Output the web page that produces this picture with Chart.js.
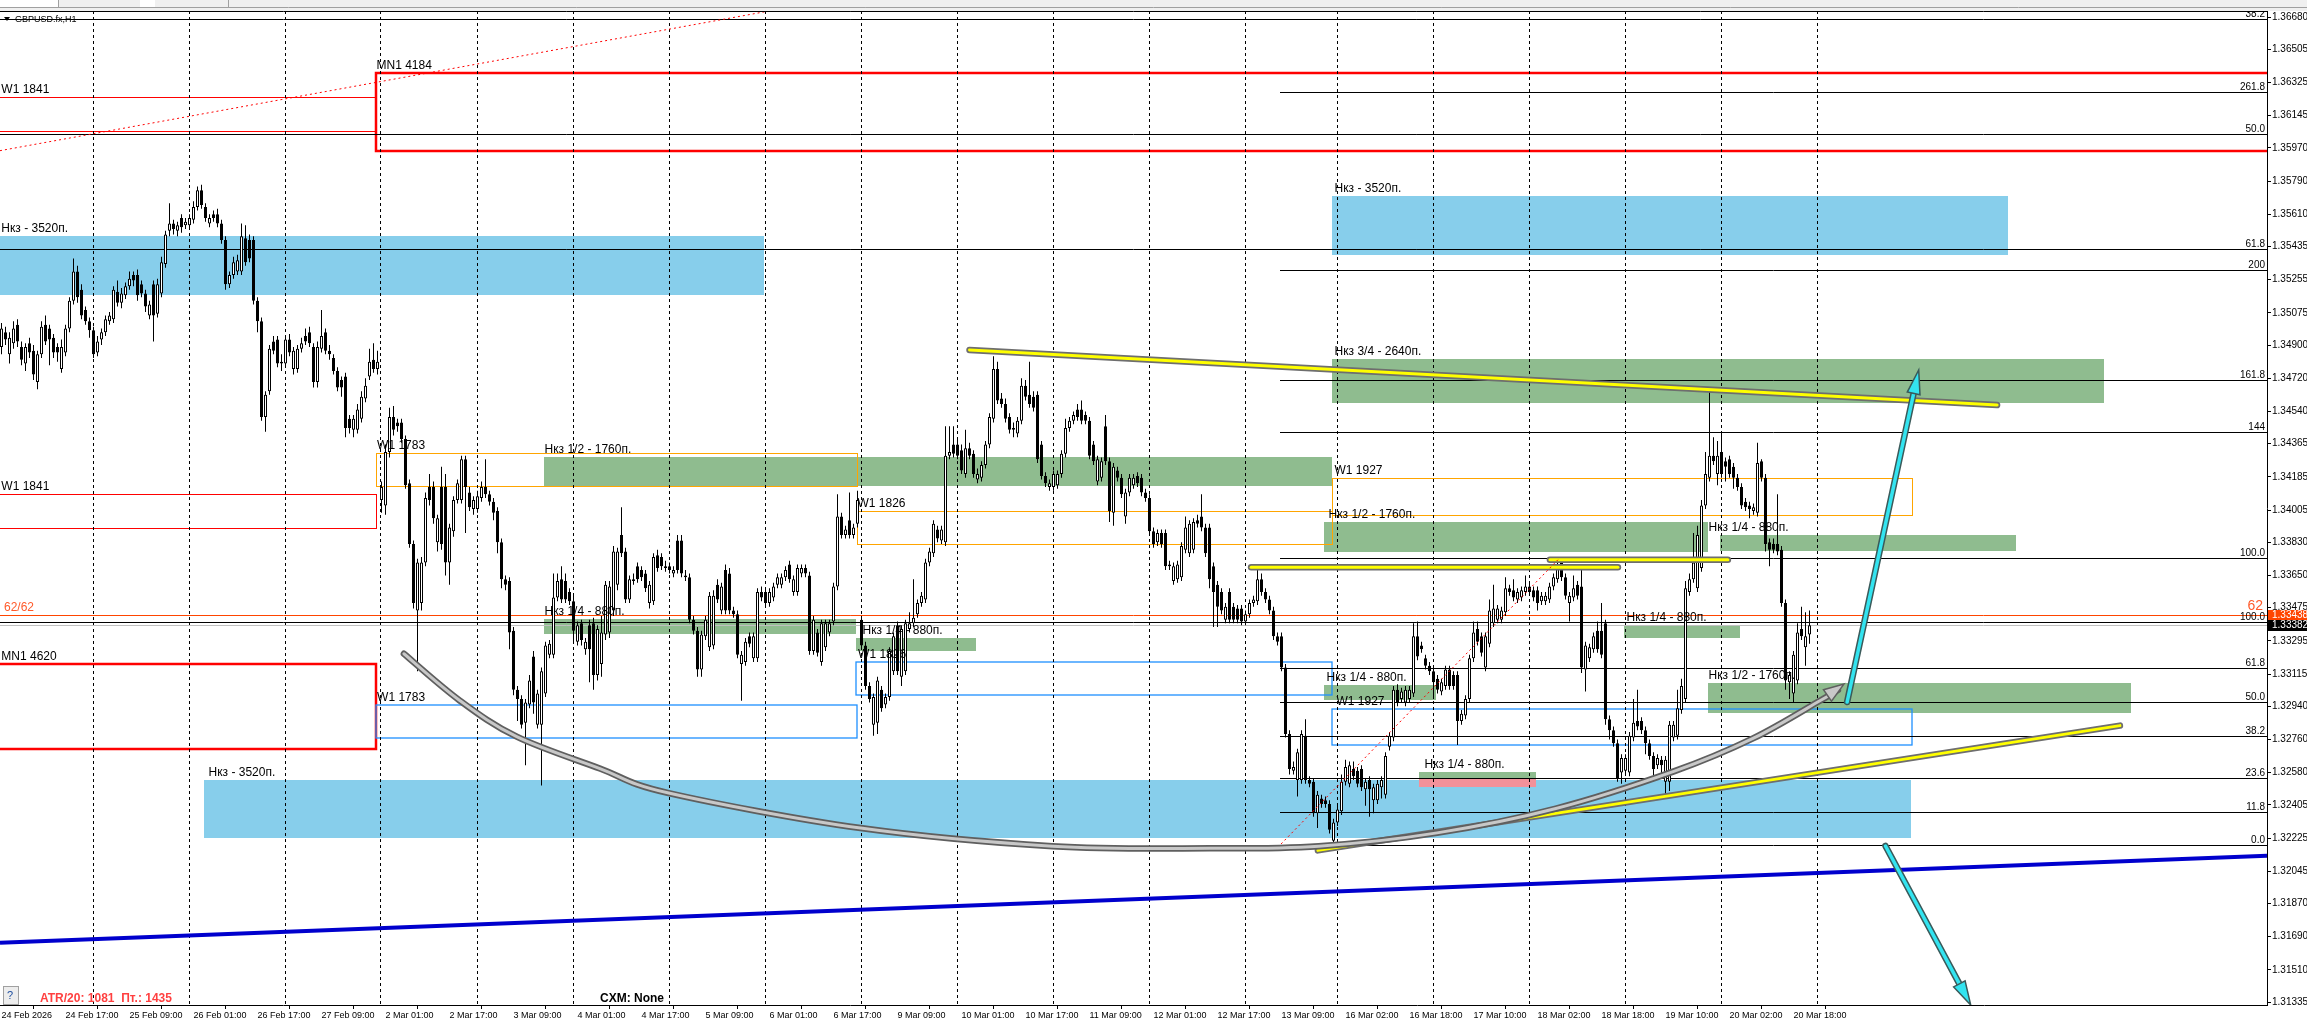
<!DOCTYPE html>
<html><head><meta charset="utf-8">
<script src="https://cdn.jsdelivr.net/npm/chart.js@4.4.1/dist/chart.umd.min.js"></script>
<style>html,body{margin:0;padding:0;background:#fff;overflow:hidden}#wrap{width:2307px;height:1025px;position:relative}</style>
</head><body><div id="wrap"><canvas id="c" width="2307" height="1025"></canvas></div>
<script>
const timeLabels=["24 Feb 2026","24 Feb 17:00","25 Feb 09:00","26 Feb 01:00","26 Feb 17:00","27 Feb 09:00","2 Mar 01:00","2 Mar 17:00","3 Mar 09:00","4 Mar 01:00","4 Mar 17:00","5 Mar 09:00","6 Mar 01:00","6 Mar 17:00","9 Mar 09:00","10 Mar 01:00","10 Mar 17:00","11 Mar 09:00","12 Mar 01:00","12 Mar 17:00","13 Mar 09:00","16 Mar 02:00","16 Mar 18:00","17 Mar 10:00","18 Mar 02:00","18 Mar 18:00","19 Mar 10:00","20 Mar 02:00","20 Mar 18:00"];
const priceTicks=[1.36680,1.36505,1.36325,1.36145,1.35970,1.35790,1.35610,1.35435,1.35255,1.35075,1.34900,1.34720,1.34540,1.34365,1.34185,1.34005,1.33830,1.33650,1.33475,1.33295,1.33115,1.32940,1.32760,1.32580,1.32405,1.32225,1.32045,1.31870,1.31690,1.31510,1.31335];
const gridBars=[23,47,71,95,119,143,167,191,215,239,263,287,311,334,358,382,406,430,454];

const opens=[
1.3489,1.3497,1.3485,1.3491,1.3501,1.3489,1.3480,1.3491,1.3487,1.3470,
1.3485,1.3501,1.3499,1.3494,1.3489,1.3477,1.3486,1.3499,1.3514,1.3530,
1.3520,1.3509,1.3503,1.3498,1.3486,1.3493,1.3497,1.3503,1.3504,1.3519,
1.3513,1.3517,1.3522,1.3528,1.3528,1.3523,1.3518,1.3506,1.3523,1.3507,
1.3518,1.3534,1.3552,1.3556,1.3552,1.3559,1.3555,1.3555,1.3558,1.3565,
1.3574,1.3565,1.3556,1.3561,1.3561,1.3556,1.3547,1.3523,1.3528,1.3530,
1.3530,1.3548,1.3547,1.3547,1.3514,1.3503,1.3451,1.3465,1.3492,1.3493,
1.3480,1.3480,1.3493,1.3477,1.3477,1.3488,1.3495,1.3497,1.3489,1.3470,
1.3488,1.3497,1.3487,1.3483,1.3476,1.3471,1.3473,1.3450,1.3444,1.3444,
1.3450,1.3461,1.3473,1.3482,1.3477,1.3406,1.3403,1.3432,1.3451,1.3448,
1.3448,1.3439,1.3415,1.3382,1.3346,1.3350,1.3372,1.3413,1.3413,1.3383,
1.3413,1.3413,1.3372,1.3389,1.3406,1.3406,1.3428,1.3410,1.3401,1.3401,
1.3407,1.3413,1.3409,1.3405,1.3400,1.3383,1.3363,1.3362,1.3335,1.3303,
1.3298,1.3285,1.3295,1.3321,1.3284,1.3284,1.3301,1.3322,1.3322,1.3353,
1.3363,1.3362,1.3356,1.3351,1.3329,1.3339,1.3325,1.3338,1.3339,1.3311,
1.3317,1.3333,1.3334,1.3346,1.3360,1.3387,1.3378,1.3352,1.3362,1.3370,
1.3368,1.3366,1.3350,1.3351,1.3376,1.3375,1.3370,1.3370,1.3366,1.3384,
1.3384,1.3365,1.3364,1.3341,1.3335,1.3314,1.3332,1.3326,1.3327,1.3360,
1.3346,1.3368,1.3366,1.3346,1.3344,1.3317,1.3318,1.3332,1.3320,1.3320,
1.3356,1.3356,1.3350,1.3353,1.3360,1.3360,1.3364,1.3371,1.3356,1.3356,
1.3366,1.3369,1.3365,1.3324,1.3334,1.3318,1.3326,1.3334,1.3340,1.3359,
1.3397,1.3387,1.3395,1.3387,1.3393,1.3341,1.3327,1.3305,1.3284,1.3285,
1.3303,1.3295,1.3299,1.3313,1.3338,1.3310,1.3313,1.3336,1.3339,1.3344,
1.3350,1.3352,1.3372,1.3377,1.3390,1.3384,1.3383,1.3430,1.3436,1.3436,
1.3433,1.3420,1.3434,1.3431,1.3417,1.3418,1.3425,1.3436,1.3450,1.3477,
1.3461,1.3458,1.3451,1.3444,1.3442,1.3449,1.3468,1.3463,1.3462,1.3463,
1.3436,1.3419,1.3413,1.3413,1.3414,1.3420,1.3431,1.3445,1.3449,1.3455,
1.3455,1.3452,1.3449,1.3436,1.3416,1.3418,1.3446,1.3427,1.3399,1.3422,
1.3418,1.3397,1.3410,1.3414,1.3419,1.3418,1.3410,1.3407,1.3389,1.3383,
1.3388,1.3388,1.3371,1.3362,1.3363,1.3364,1.3379,1.3377,1.3379,1.3395,
1.3397,1.3391,1.3391,1.3370,1.3360,1.3356,1.3341,1.3356,1.3348,1.3347,
1.3347,1.3340,1.3344,1.3350,1.3351,1.3363,1.3356,1.3352,1.3346,1.3332,
1.3332,1.3315,1.3279,1.3259,1.3254,1.3254,1.3278,1.3254,1.3253,1.3236,
1.3244,1.3243,1.3241,1.3221,1.3231,1.3237,1.3253,1.3252,1.3260,1.3259,
1.3260,1.3249,1.3254,1.3243,1.3243,1.3250,1.3246,1.3272,1.3277,1.3303,
1.3298,1.3296,1.3298,1.3301,1.3332,1.3327,1.3320,1.3316,1.3313,1.3309,
1.3302,1.3305,1.3314,1.3311,1.3311,1.3286,1.3289,1.3298,1.3320,1.3336,
1.3332,1.3315,1.3328,1.3339,1.3341,1.3341,1.3345,1.3358,1.3357,1.3352,
1.3353,1.3356,1.3359,1.3357,1.3357,1.3351,1.3351,1.3352,1.3359,1.3363,
1.3372,1.3364,1.3350,1.3353,1.3360,1.3359,1.3314,1.3320,1.3325,1.3335,
1.3335,1.3339,1.3287,1.3281,1.3274,1.3258,1.3259,1.3258,1.3277,1.3286,
1.3286,1.3281,1.3274,1.3267,1.3262,1.3265,1.3253,1.3253,1.3277,1.3278,
1.3292,1.3298,1.3356,1.3363,1.3358,1.3369,1.3403,1.3418,1.3430,1.3420,
1.3432,1.3427,1.3428,1.3424,1.3418,1.3413,1.3405,1.3403,1.3400,1.3399,
1.3427,1.3418,1.3383,1.3382,1.3382,1.3379,1.3350,1.3307,1.3301,1.3308,
1.3336,1.3326,1.3333];
const highs=[
1.3502,1.3500,1.3497,1.3503,1.3504,1.3492,1.3491,1.3494,1.3490,1.3487,
1.3503,1.3506,1.3501,1.3496,1.3491,1.3493,1.3501,1.3516,1.3537,1.3533,
1.3523,1.3511,1.3505,1.3500,1.3495,1.3499,1.3506,1.3508,1.3522,1.3525,
1.3521,1.3524,1.3530,1.3530,1.3531,1.3525,1.3520,1.3514,1.3525,1.3526,
1.3538,1.3552,1.3567,1.3558,1.3557,1.3561,1.3559,1.3561,1.3568,1.3576,
1.3577,1.3567,1.3561,1.3563,1.3564,1.3558,1.3549,1.3530,1.3538,1.3539,
1.3556,1.3555,1.3550,1.3549,1.3516,1.3505,1.3465,1.3490,1.3495,1.3495,
1.3485,1.3495,1.3496,1.3489,1.3490,1.3494,1.3499,1.3500,1.3491,1.3492,
1.3509,1.3499,1.3490,1.3485,1.3478,1.3473,1.3475,1.3452,1.3452,1.3458,
1.3465,1.3472,1.3488,1.3491,1.3487,1.3416,1.3436,1.3456,1.3457,1.3450,
1.3450,1.3441,1.3417,1.3384,1.3374,1.3375,1.3410,1.3420,1.3416,1.3398,
1.3424,1.3420,1.3393,1.3408,1.3417,1.3430,1.3430,1.3413,1.3408,1.3411,
1.3416,1.3428,1.3411,1.3407,1.3402,1.3385,1.3365,1.3364,1.3337,1.3305,
1.3300,1.3298,1.3311,1.3324,1.3303,1.3315,1.3329,1.3330,1.3366,1.3366,
1.3370,1.3366,1.3358,1.3354,1.3340,1.3341,1.3331,1.3341,1.3342,1.3338,
1.3343,1.3362,1.3362,1.3381,1.3380,1.3402,1.3380,1.3365,1.3366,1.3372,
1.3370,1.3368,1.3362,1.3377,1.3379,1.3377,1.3373,1.3372,1.3370,1.3387,
1.3387,1.3368,1.3366,1.3343,1.3337,1.3335,1.3343,1.3356,1.3357,1.3363,
1.3361,1.3371,1.3369,1.3348,1.3346,1.3324,1.3331,1.3334,1.3334,1.3358,
1.3359,1.3358,1.3358,1.3361,1.3366,1.3366,1.3370,1.3373,1.3365,1.3371,
1.3371,1.3371,1.3367,1.3343,1.3336,1.3341,1.3341,1.3341,1.3361,1.3409,
1.3399,1.3392,1.3410,1.3393,1.3411,1.3343,1.3329,1.3307,1.3301,1.3310,
1.3305,1.3301,1.3326,1.3334,1.3340,1.3338,1.3341,1.3345,1.3363,1.3352,
1.3356,1.3374,1.3380,1.3395,1.3392,1.3392,1.3446,1.3446,1.3446,1.3440,
1.3436,1.3444,1.3437,1.3433,1.3423,1.3427,1.3438,1.3453,1.3484,1.3481,
1.3464,1.3461,1.3453,1.3448,1.3451,1.3472,1.3471,1.3481,1.3465,1.3465,
1.3438,1.3421,1.3417,1.3422,1.3422,1.3433,1.3450,1.3451,1.3454,1.3458,
1.3460,1.3454,1.3451,1.3438,1.3430,1.3429,1.3452,1.3429,1.3426,1.3424,
1.3420,1.3412,1.3420,1.3420,1.3421,1.3420,1.3412,1.3409,1.3391,1.3390,
1.3390,1.3390,1.3373,1.3372,1.3373,1.3383,1.3397,1.3395,1.3396,1.3398,
1.3409,1.3393,1.3393,1.3372,1.3362,1.3358,1.3350,1.3358,1.3350,1.3349,
1.3349,1.3346,1.3352,1.3354,1.3369,1.3366,1.3358,1.3354,1.3348,1.3334,
1.3334,1.3317,1.3281,1.3264,1.3271,1.3281,1.3287,1.3256,1.3255,1.3248,
1.3246,1.3245,1.3243,1.3233,1.3240,1.3257,1.3265,1.3264,1.3264,1.3261,
1.3262,1.3255,1.3256,1.3252,1.3254,1.3256,1.3269,1.3280,1.3305,1.3306,
1.3304,1.3305,1.3305,1.3339,1.3340,1.3329,1.3322,1.3318,1.3315,1.3311,
1.3309,1.3316,1.3316,1.3313,1.3313,1.3292,1.3300,1.3322,1.3340,1.3340,
1.3334,1.3334,1.3352,1.3360,1.3349,1.3348,1.3364,1.3360,1.3363,1.3358,
1.3359,1.3365,1.3361,1.3359,1.3359,1.3356,1.3356,1.3361,1.3366,1.3375,
1.3374,1.3366,1.3356,1.3365,1.3362,1.3371,1.3329,1.3328,1.3334,1.3340,
1.3350,1.3341,1.3289,1.3283,1.3276,1.3268,1.3268,1.3280,1.3298,1.3303,
1.3288,1.3283,1.3276,1.3269,1.3268,1.3267,1.3267,1.3286,1.3286,1.3303,
1.3309,1.3362,1.3366,1.3388,1.3392,1.3406,1.3432,1.3467,1.3440,1.3438,
1.3443,1.3429,1.3430,1.3426,1.3420,1.3415,1.3407,1.3405,1.3404,1.3437,
1.3428,1.3420,1.3385,1.3385,1.3409,1.3381,1.3352,1.3313,1.3324,1.3339,
1.3348,1.3345,1.3346];
const lows=[
1.3485,1.3490,1.3480,1.3488,1.3489,1.3479,1.3476,1.3483,1.3471,1.3466,
1.3483,1.3490,1.3479,1.3483,1.3481,1.3475,1.3484,1.3497,1.3512,1.3513,
1.3504,1.3501,1.3494,1.3483,1.3484,1.3490,1.3495,1.3501,1.3502,1.3511,
1.3510,1.3515,1.3520,1.3522,1.3514,1.3516,1.3508,1.3504,1.3492,1.3505,
1.3516,1.3532,1.3549,1.3550,1.3549,1.3551,1.3553,1.3553,1.3556,1.3563,
1.3564,1.3557,1.3554,1.3557,1.3554,1.3545,1.3520,1.3521,1.3526,1.3528,
1.3528,1.3533,1.3535,1.3512,1.3497,1.3449,1.3443,1.3463,1.3485,1.3478,
1.3476,1.3478,1.3484,1.3474,1.3475,1.3486,1.3490,1.3489,1.3467,1.3467,
1.3486,1.3485,1.3482,1.3474,1.3465,1.3462,1.3440,1.3442,1.3440,1.3442,
1.3448,1.3459,1.3471,1.3475,1.3474,1.3399,1.3398,1.3429,1.3441,1.3443,
1.3437,1.3412,1.3380,1.3347,1.3313,1.3346,1.3370,1.3403,1.3393,1.3378,
1.3379,1.3365,1.3360,1.3386,1.3404,1.3404,1.3388,1.3400,1.3398,1.3399,
1.3405,1.3407,1.3403,1.3395,1.3377,1.3358,1.3357,1.3325,1.3300,1.3286,
1.3282,1.3262,1.3293,1.3290,1.3282,1.3251,1.3299,1.3320,1.3320,1.3351,
1.3350,1.3350,1.3349,1.3329,1.3327,1.3327,1.3322,1.3307,1.3303,1.3308,
1.3310,1.3330,1.3331,1.3343,1.3357,1.3375,1.3350,1.3350,1.3360,1.3361,
1.3362,1.3356,1.3347,1.3349,1.3367,1.3368,1.3367,1.3366,1.3364,1.3366,
1.3364,1.3362,1.3339,1.3333,1.3310,1.3310,1.3330,1.3324,1.3325,1.3350,
1.3344,1.3344,1.3344,1.3342,1.3320,1.3297,1.3316,1.3326,1.3318,1.3318,
1.3351,1.3348,1.3348,1.3351,1.3358,1.3358,1.3362,1.3361,1.3354,1.3354,
1.3364,1.3364,1.3322,1.3322,1.3321,1.3316,1.3324,1.3332,1.3338,1.3357,
1.3385,1.3385,1.3385,1.3385,1.3391,1.3325,1.3303,1.3296,1.3278,1.3279,
1.3291,1.3293,1.3297,1.3311,1.3311,1.3305,1.3311,1.3334,1.3337,1.3342,
1.3348,1.3350,1.3370,1.3375,1.3383,1.3382,1.3381,1.3428,1.3429,1.3428,
1.3420,1.3418,1.3428,1.3418,1.3415,1.3416,1.3423,1.3434,1.3448,1.3458,
1.3456,1.3448,1.3442,1.3440,1.3440,1.3447,1.3460,1.3456,1.3454,1.3426,
1.3417,1.3413,1.3411,1.3411,1.3412,1.3418,1.3429,1.3443,1.3447,1.3449,
1.3447,1.3447,1.3428,1.3425,1.3414,1.3416,1.3425,1.3394,1.3392,1.3416,
1.3407,1.3393,1.3408,1.3412,1.3413,1.3408,1.3405,1.3387,1.3380,1.3381,
1.3380,1.3368,1.3368,1.3360,1.3361,1.3362,1.3377,1.3375,1.3377,1.3391,
1.3389,1.3375,1.3358,1.3337,1.3337,1.3344,1.3339,1.3339,1.3339,1.3339,
1.3338,1.3338,1.3342,1.3348,1.3349,1.3354,1.3350,1.3344,1.3330,1.3327,
1.3313,1.3277,1.3257,1.3257,1.3245,1.3252,1.3252,1.3250,1.3234,1.3228,
1.3239,1.3239,1.3225,1.3218,1.3229,1.3235,1.3251,1.3250,1.3254,1.3250,
1.3248,1.3240,1.3234,1.3236,1.3241,1.3244,1.3244,1.3270,1.3275,1.3294,
1.3296,1.3294,1.3296,1.3299,1.3319,1.3323,1.3314,1.3311,1.3298,1.3301,
1.3300,1.3303,1.3303,1.3303,1.3273,1.3284,1.3287,1.3296,1.3318,1.3327,
1.3321,1.3313,1.3326,1.3337,1.3339,1.3339,1.3343,1.3354,1.3351,1.3350,
1.3351,1.3354,1.3354,1.3351,1.3346,1.3349,1.3349,1.3350,1.3357,1.3361,
1.3362,1.3352,1.3340,1.3351,1.3352,1.3312,1.3302,1.3318,1.3323,1.3323,
1.3320,1.3284,1.3276,1.3272,1.3253,1.3252,1.3257,1.3256,1.3275,1.3281,
1.3279,1.3268,1.3265,1.3255,1.3260,1.3255,1.3246,1.3248,1.3275,1.3276,
1.3290,1.3296,1.3354,1.3361,1.3356,1.3367,1.3401,1.3416,1.3425,1.3414,
1.3418,1.3416,1.3418,1.3412,1.3411,1.3401,1.3400,1.3396,1.3398,1.3397,
1.3416,1.3378,1.3370,1.3377,1.3376,1.3348,1.3303,1.3298,1.3296,1.3306,
1.3330,1.3316,1.3328];
const closes=[
1.3499,1.3493,1.3494,1.3499,1.3492,1.3482,1.3489,1.3486,1.3474,1.3485,
1.3500,1.3492,1.3493,1.3486,1.3486,1.3489,1.3499,1.3514,1.3530,1.3516,
1.3506,1.3503,1.3498,1.3485,1.3492,1.3497,1.3504,1.3506,1.3520,1.3513,
1.3518,1.3522,1.3526,1.3525,1.3517,1.3518,1.3511,1.3512,1.3506,1.3523,
1.3535,1.3550,1.3556,1.3553,1.3555,1.3554,1.3557,1.3559,1.3565,1.3574,
1.3566,1.3559,1.3559,1.3559,1.3556,1.3547,1.3523,1.3528,1.3535,1.3536,
1.3549,1.3535,1.3537,1.3514,1.3503,1.3451,1.3463,1.3488,1.3487,1.3480,
1.3481,1.3493,1.3486,1.3487,1.3488,1.3491,1.3492,1.3491,1.3470,1.3489,
1.3495,1.3487,1.3485,1.3476,1.3467,1.3467,1.3445,1.3445,1.3450,1.3455,
1.3462,1.3468,1.3481,1.3477,1.3481,1.3413,1.3432,1.3451,1.3444,1.3446,
1.3439,1.3414,1.3382,1.3350,1.3372,1.3372,1.3407,1.3406,1.3396,1.3396,
1.3382,1.3372,1.3391,1.3406,1.3415,1.3428,1.3413,1.3402,1.3406,1.3408,
1.3413,1.3409,1.3405,1.3399,1.3383,1.3363,1.3360,1.3334,1.3303,1.3298,
1.3284,1.3296,1.3308,1.3296,1.3301,1.3313,1.3327,1.3328,1.3353,1.3362,
1.3352,1.3352,1.3351,1.3335,1.3338,1.3330,1.3329,1.3325,1.3311,1.3336,
1.3334,1.3360,1.3359,1.3378,1.3378,1.3377,1.3352,1.3363,1.3363,1.3363,
1.3364,1.3358,1.3360,1.3375,1.3369,1.3370,1.3369,1.3368,1.3368,1.3368,
1.3366,1.3364,1.3341,1.3335,1.3314,1.3333,1.3341,1.3354,1.3354,1.3352,
1.3359,1.3346,1.3346,1.3344,1.3322,1.3322,1.3329,1.3328,1.3332,1.3356,
1.3353,1.3350,1.3356,1.3359,1.3364,1.3364,1.3368,1.3363,1.3363,1.3369,
1.3369,1.3366,1.3324,1.3341,1.3323,1.3339,1.3339,1.3339,1.3359,1.3397,
1.3387,1.3390,1.3387,1.3391,1.3406,1.3327,1.3305,1.3298,1.3299,1.3308,
1.3293,1.3299,1.3324,1.3332,1.3313,1.3336,1.3339,1.3339,1.3342,1.3350,
1.3354,1.3372,1.3378,1.3393,1.3385,1.3390,1.3430,1.3432,1.3431,1.3430,
1.3422,1.3434,1.3430,1.3420,1.3420,1.3425,1.3436,1.3451,1.3477,1.3460,
1.3458,1.3450,1.3444,1.3445,1.3449,1.3468,1.3462,1.3458,1.3456,1.3428,
1.3419,1.3415,1.3415,1.3420,1.3420,1.3431,1.3445,1.3449,1.3452,1.3451,
1.3449,1.3449,1.3430,1.3427,1.3428,1.3427,1.3427,1.3400,1.3424,1.3418,
1.3409,1.3410,1.3418,1.3418,1.3415,1.3410,1.3407,1.3389,1.3382,1.3388,
1.3382,1.3370,1.3370,1.3370,1.3371,1.3381,1.3391,1.3393,1.3394,1.3393,
1.3391,1.3377,1.3363,1.3356,1.3348,1.3346,1.3348,1.3341,1.3341,1.3341,
1.3340,1.3344,1.3350,1.3352,1.3363,1.3356,1.3352,1.3346,1.3332,1.3329,
1.3315,1.3279,1.3260,1.3261,1.3269,1.3279,1.3254,1.3252,1.3236,1.3246,
1.3241,1.3241,1.3227,1.3231,1.3238,1.3253,1.3261,1.3262,1.3256,1.3252,
1.3250,1.3253,1.3249,1.3250,1.3252,1.3254,1.3267,1.3278,1.3303,1.3296,
1.3302,1.3303,1.3303,1.3332,1.3321,1.3325,1.3316,1.3313,1.3307,1.3303,
1.3307,1.3314,1.3305,1.3305,1.3286,1.3290,1.3298,1.3320,1.3334,1.3329,
1.3323,1.3332,1.3346,1.3347,1.3347,1.3346,1.3358,1.3356,1.3353,1.3356,
1.3357,1.3359,1.3356,1.3353,1.3350,1.3354,1.3354,1.3359,1.3364,1.3371,
1.3364,1.3354,1.3354,1.3358,1.3354,1.3315,1.3327,1.3326,1.3332,1.3325,
1.3322,1.3287,1.3281,1.3274,1.3255,1.3266,1.3266,1.3278,1.3285,1.3283,
1.3281,1.3274,1.3267,1.3260,1.3266,1.3262,1.3265,1.3284,1.3284,1.3293,
1.3305,1.3358,1.3363,1.3372,1.3387,1.3403,1.3420,1.3430,1.3427,1.3430,
1.3420,1.3424,1.3420,1.3418,1.3413,1.3403,1.3402,1.3401,1.3402,1.3426,
1.3418,1.3382,1.3379,1.3379,1.3378,1.3350,1.3308,1.3311,1.3322,1.3334,
1.3332,1.3332,1.3338];

// zones (rectangles) in bar / price units
const zoneLabels=["MN1 4184","W1 1841","Нкз - 3520п.","W1 1783","Нкз 1/2 - 1760п.","W1 1841","Нкз 1/4 - 880п.","MN1 4620","W1 1783","Нкз - 3520п.","W1 1826","Нкз 1/4 - 880п.","W1 1826","Нкз - 3520п.","Нкз 3/4 - 2640п.","W1 1927","Нкз 1/2 - 1760п.","Нкз 1/4 - 880п.","Нкз 1/4 - 880п.","Нкз 1/4 - 880п.","W1 1927","Нкз 1/4 - 880п.","","Нкз 1/2 - 1760п."];
const zoneFrom=[93.5,-5,-5,93.65,135.5,-5,135.5,-5,93.65,50.5,213.75,213.5,213.5,332.5,332.5,332.5,330.5,429.5,405.5,330.5,332.5,354.25,354.25,426.5];
const zoneTo=[620,93.5,190.65,213.75,332.5,93.65,213.5,93.5,213.75,477.25,332.5,243.5,332.5,501.5,525.5,477.5,426.5,503.5,434.5,358.5,477.5,383.5,383.5,532.25];
const zoneTop=[1.36378,1.36245,1.35492,1.34316,1.34292,1.34093,1.33412,1.33168,1.32946,1.32540,1.33998,1.33312,1.33180,1.35707,1.34822,1.34177,1.33938,1.33871,1.33383,1.33054,1.32927,1.32583,1.32547,1.33066];
const zoneBottom=[1.35955,1.36060,1.35172,1.34136,1.34136,1.33909,1.33333,1.32707,1.32767,1.32224,1.33823,1.33240,1.32999,1.35391,1.34588,1.33979,1.33775,1.33783,1.33312,1.32975,1.32731,1.32547,1.32504,1.32903];
const zoneKind=["mn1","w1red","blue","w1orange","green","w1red","green","mn1","w1blue","blue","w1orange","green","w1blue","blue","green","w1orange","green","green","green","green","w1blue","green","pink","green"];
const zoneLabelBar=[93.5,-0.3,-0.3,93.65,135.5,-0.3,135.5,-0.3,93.65,51.5,213.75,215,213.9,333,333,333,331.5,426.5,406,331,333.5,355.5,null,426.5];

// Fibonacci levels
const fibFullNames=["38.2","50.0","61.8","100.0"];
const fibFullPrices=[1.36667,1.36044,1.35421,1.33399];
const fibRightNames=["261.8","200","161.8","144","100.0","61.8","50.0","38.2","23.6","11.8","0.0"];
const fibRightPrices=[1.36272,1.35305,1.34708,1.34427,1.33744,1.33146,1.32964,1.32779,1.32550,1.32367,1.32185];
const fibRightFrom=319.5;

const levelPrice=1.33438; // "62"
const bidPrice=1.33382;

// trend lines: [fromBar, fromPrice, toBar, toPrice]
const trendKinds=["blue","yellow","yellow","yellow","yellow","reddot","reddot"];
const trendFromBar=[-0.375,242.0,312.4,387.1,329.1,-0.375,319.9];
const trendFromPrice=[1.31657,1.34874,1.33695,1.33735,1.32158,1.35955,1.32193];
const trendToBar=[566.375,498.9,404.1,431.6,529.6,190.9,389.1];
const trendToPrice=[1.32129,1.34575,1.33695,1.33735,1.32835,1.36709,1.33735];

// curved arrow
const arcBars=[100.6,114.4,128.8,149.6,166.8,214.75,262.75,302.1,329.3,358.9,388.6,418.25,438,454.6,459.1];
const arcPrices=[1.33225,1.32974,1.32775,1.32602,1.32469,1.32279,1.32181,1.32169,1.32181,1.32253,1.32385,1.32588,1.32767,1.32970,1.33028];

// cyan arrows
const arrowFromBar=[461.4,471.0];
const arrowFromPrice=[1.32963,1.32182];
const arrowToBar=[479.3,492.3];
const arrowToPrice=[1.34765,1.31319];

const FONT="'Liberation Sans', Arial, sans-serif";
const STYLE={
  blue:{fill:'#87CEEB'}, green:{fill:'#8FBC8F'}, pink:{fill:'#F2919A'},
  w1red:{stroke:'#FF0000',lw:1}, mn1:{stroke:'#FF0000',lw:2.5},
  w1orange:{stroke:'#FFA500',lw:1}, w1blue:{stroke:'#1E90FF',lw:1.3}
};

function smoothPath(ctx,pts){
  ctx.moveTo(pts[0].x,pts[0].y);
  for(let i=0;i<pts.length-1;i++){
    const p0=pts[i-1]||pts[i],p1=pts[i],p2=pts[i+1],p3=pts[i+2]||p2;
    ctx.bezierCurveTo(p1.x+(p2.x-p0.x)/6,p1.y+(p2.y-p0.y)/6,p2.x-(p3.x-p1.x)/6,p2.y-(p3.y-p1.y)/6,p2.x,p2.y);
  }
}
function arrowHead(ctx,x0,y0,x1,y1,len,w,fill,stroke){
  const a=Math.atan2(y1-y0,x1-x0);
  const bx=x1-len*Math.cos(a),by=y1-len*Math.sin(a);
  const nx=-Math.sin(a)*w/2,ny=Math.cos(a)*w/2;
  ctx.beginPath();ctx.moveTo(x1,y1);ctx.lineTo(bx+nx,by+ny);ctx.lineTo(bx-nx,by-ny);ctx.closePath();
  ctx.fillStyle=fill;ctx.fill();ctx.lineWidth=1.5;ctx.strokeStyle=stroke;ctx.stroke();
}

const overlay={
  id:'overlay',
  beforeDatasetsDraw(chart){
    const {ctx,chartArea:a,scales:{x,y}}=chart;
    ctx.save();
    ctx.beginPath();ctx.rect(a.left,a.top,a.right-a.left,a.bottom-a.top);ctx.clip();
    // zone fills
    zoneKind.forEach((k,i)=>{
      const s=STYLE[k]; if(!s.fill) return;
      const x1=Math.round(x.getPixelForValue(zoneFrom[i])),x2=Math.round(x.getPixelForValue(zoneTo[i]));
      const y1=Math.round(y.getPixelForValue(zoneTop[i])),y2=Math.round(y.getPixelForValue(zoneBottom[i]));
      ctx.fillStyle=s.fill;ctx.fillRect(x1,y1,x2-x1,y2-y1);
    });
    // zone borders
    zoneKind.forEach((k,i)=>{
      const s=STYLE[k]; if(!s.stroke) return;
      const x1=Math.round(x.getPixelForValue(zoneFrom[i])),x2=Math.round(x.getPixelForValue(zoneTo[i]));
      const y1=Math.round(y.getPixelForValue(zoneTop[i])),y2=Math.round(y.getPixelForValue(zoneBottom[i]));
      ctx.strokeStyle=s.stroke;ctx.lineWidth=s.lw;
      const o=s.lw%2===1?0.5:0;
      ctx.strokeRect(x1+o,y1+o,x2-x1,y2-y1);
    });
    // vertical dashed grid (day separators)
    ctx.strokeStyle='#000';ctx.lineWidth=1;ctx.setLineDash([3,3]);
    gridBars.forEach(b=>{
      const px=Math.round(x.getPixelForValue(b))-1+0.5;
      ctx.beginPath();ctx.moveTo(px,a.top);ctx.lineTo(px,a.bottom);ctx.stroke();
    });
    ctx.setLineDash([]);
    // fib levels
    ctx.strokeStyle='#000';ctx.lineWidth=1;
    fibFullPrices.forEach(p=>{
      const py=Math.round(y.getPixelForValue(p))+0.5;
      ctx.beginPath();ctx.moveTo(a.left,py);ctx.lineTo(a.right,py);ctx.stroke();
    });
    const fx=Math.round(x.getPixelForValue(fibRightFrom));
    fibRightPrices.forEach(p=>{
      const py=Math.round(y.getPixelForValue(p))+0.5;
      ctx.beginPath();ctx.moveTo(fx,py);ctx.lineTo(a.right,py);ctx.stroke();
    });
    // bid line and "62" level
    let py=Math.round(y.getPixelForValue(bidPrice))+0.5;
    ctx.strokeStyle='#C0C0C0';ctx.beginPath();ctx.moveTo(a.left,py);ctx.lineTo(a.right,py);ctx.stroke();
    py=Math.round(y.getPixelForValue(levelPrice))+0.5;
    ctx.strokeStyle='#FF4500';ctx.beginPath();ctx.moveTo(a.left,py);ctx.lineTo(a.right,py);ctx.stroke();
    ctx.restore();
  },
  afterDatasetsDraw(chart){
    const {ctx,chartArea:a,scales:{x,y}}=chart;
    const P=(b,p)=>({x:x.getPixelForValue(b),y:y.getPixelForValue(p)});
    ctx.save();
    ctx.beginPath();ctx.rect(a.left,a.top,a.right-a.left,a.bottom-a.top);ctx.clip();
    ctx.lineCap='round';
    // trend lines
    trendKinds.forEach((k,i)=>{
      const p1=P(trendFromBar[i],trendFromPrice[i]),p2=P(trendToBar[i],trendToPrice[i]);
      ctx.beginPath();ctx.moveTo(p1.x,p1.y);ctx.lineTo(p2.x,p2.y);
      if(k==='blue'){ctx.lineCap='butt';ctx.strokeStyle='#0000CD';ctx.lineWidth=4;ctx.stroke();ctx.lineCap='round';}
      else if(k==='yellow'){ctx.strokeStyle='#6E6E6E';ctx.lineWidth=6.5;ctx.stroke();ctx.strokeStyle='#FFFF00';ctx.lineWidth=3;ctx.stroke();}
      else {ctx.lineCap='butt';ctx.setLineDash([2,3]);ctx.strokeStyle='#FF0000';ctx.lineWidth=1;ctx.stroke();ctx.setLineDash([]);ctx.lineCap='round';}
    });
    // curved gray arrow
    const pts=arcBars.map((b,i)=>P(b,arcPrices[i]));
    ctx.beginPath();smoothPath(ctx,pts);
    ctx.strokeStyle='#5F5F5F';ctx.lineWidth=6.5;ctx.stroke();
    ctx.strokeStyle='#C8C8C8';ctx.lineWidth=3;ctx.stroke();
    const n=pts.length;
    arrowHead(ctx,pts[n-2].x,pts[n-2].y,pts[n-1].x+6,pts[n-1].y-6,20,14,'#C8C8C8','#5F5F5F');
    // cyan arrows
    arrowFromBar.forEach((b,i)=>{
      const p1=P(b,arrowFromPrice[i]),p2=P(arrowToBar[i],arrowToPrice[i]);
      const ang=Math.atan2(p2.y-p1.y,p2.x-p1.x);
      const ex=p2.x-16*Math.cos(ang),ey=p2.y-16*Math.sin(ang);
      ctx.beginPath();ctx.moveTo(p1.x,p1.y);ctx.lineTo(ex,ey);
      ctx.strokeStyle='#3A5A5A';ctx.lineWidth=6.5;ctx.stroke();
      ctx.strokeStyle='#33E4F0';ctx.lineWidth=3.5;ctx.stroke();
      arrowHead(ctx,p1.x,p1.y,p2.x,p2.y,24,13,'#33E4F0','#3A5A5A');
    });
    ctx.restore();
    // labels
    ctx.save();
    ctx.beginPath();ctx.rect(a.left,a.top,a.right-a.left,a.bottom-a.top);ctx.clip();
    ctx.font='12px '+FONT;ctx.fillStyle='#000';ctx.textBaseline='alphabetic';ctx.textAlign='left';
    zoneLabels.forEach((t,i)=>{
      if(!t) return;
      const lx=x.getPixelForValue(zoneLabelBar[i])+1;
      const ly=y.getPixelForValue(zoneTop[i])-4;
      ctx.fillText(t,lx,ly);
    });
    ctx.font='10px '+FONT;ctx.textAlign='right';
    fibFullNames.forEach((t,i)=>ctx.fillText(t,a.right-2,y.getPixelForValue(fibFullPrices[i])-2));
    fibRightNames.forEach((t,i)=>ctx.fillText(t,a.right-2,y.getPixelForValue(fibRightPrices[i])-2));
    ctx.fillStyle='#FF5A2A';ctx.font='14px '+FONT;ctx.textAlign='right';
    ctx.fillText('62',a.right-4,y.getPixelForValue(levelPrice)-5);
    ctx.textAlign='left';ctx.font='12px '+FONT;
    ctx.fillText('62/62',a.left+4,y.getPixelForValue(levelPrice)-4);
    ctx.restore();
  },
  afterDraw(chart){
    const {ctx,chartArea:a,scales:{y}}=chart;
    ctx.save();
    // toolbar strip
    ctx.fillStyle='#F0F0F0';ctx.fillRect(0,0,chart.width,a.top);
    ctx.fillStyle='#FFFFFF';ctx.fillRect(0,0,58,7);ctx.fillRect(140,0,15,7);
    ctx.strokeStyle='#A0A0A0';ctx.lineWidth=1;
    ctx.beginPath();ctx.moveTo(58.5,0);ctx.lineTo(58.5,7);ctx.moveTo(228.5,0);ctx.lineTo(228.5,8);ctx.moveTo(0,7.5);ctx.lineTo(2307,7.5);ctx.stroke();
    // chart top border
    ctx.strokeStyle='#000';ctx.beginPath();ctx.moveTo(0,a.top+0.5);ctx.lineTo(a.right,a.top+0.5);ctx.stroke();
    // symbol caption
    ctx.fillStyle='#000';ctx.beginPath();ctx.moveTo(4,17);ctx.lineTo(10,17);ctx.lineTo(7,21);ctx.closePath();ctx.fill();
    ctx.font='9px '+FONT;ctx.textBaseline='middle';ctx.textAlign='left';
    ctx.fillText('GBPUSD.fx,H1',15,20);
    // price tags on axis
    const tag=(p,bg,txt)=>{const py=Math.round(y.getPixelForValue(p));ctx.fillStyle=bg;ctx.fillRect(a.right+1,py-5,chart.width-a.right,11);ctx.fillStyle='#fff';ctx.font='10px '+FONT;ctx.textBaseline='middle';ctx.fillText(txt,a.right+5,py+0.5);};
    tag(levelPrice,'#FF4500',levelPrice.toFixed(5));
    tag(bidPrice,'#000000',bidPrice.toFixed(5));
    // bottom-left info
    ctx.fillStyle='#EDEDED';ctx.fillRect(3,986,15,18);ctx.strokeStyle='#A0A0A0';ctx.strokeRect(3.5,986.5,15,18);
    ctx.fillStyle='#2050A0';ctx.font='11px '+FONT;ctx.textBaseline='alphabetic';ctx.fillText('?',7,999);
    ctx.fillStyle='#FF4040';ctx.font='bold 12px '+FONT;ctx.fillText('ATR/20: 1081  Пт.: 1435',40,1002);
    ctx.fillStyle='#000';ctx.fillText('CXM: None',600,1002);
    ctx.restore();
  }
};

const wickData=highs.map((h,i)=>({x:i,y:[lows[i],h]}));
const bodyData=opens.map((o,i)=>({x:i,y:[o,closes[i]]}));

new Chart(document.getElementById('c'),{
  type:'bar',
  data:{datasets:[
    {label:'bodies',data:bodyData,order:0,grouped:false,barThickness:3,minBarLength:1,inflateAmount:0,borderSkipped:false,borderWidth:1,borderColor:'#000',
      backgroundColor:c=>closes[c.dataIndex]>=opens[c.dataIndex]?'#FFFFFF':'#000000'},
    {label:'wicks',data:wickData,order:1,grouped:false,barThickness:1,inflateAmount:0,borderWidth:0,backgroundColor:'#000'}
  ]},
  options:{
    responsive:false,animation:false,devicePixelRatio:1,events:[],
    layout:{padding:{top:11,left:0,right:0,bottom:0}},
    plugins:{legend:{display:false},tooltip:{enabled:false}},
    scales:{
      x:{type:'linear',min:-0.375,max:566.375,offset:false,
        afterBuildTicks:s=>{s.ticks=timeLabels.map((_,k)=>({value:16*k}));},
        afterFit:s=>{s.height=20;},
        ticks:{autoSkip:false,maxRotation:0,minRotation:0,align:'start',padding:1,color:'#000',font:{family:FONT,size:9},
          callback:v=>timeLabels[Math.round(v/16)]||''},
        grid:{drawOnChartArea:false,drawTicks:true,tickLength:4,color:'#000'},
        border:{display:true,color:'#000',width:1}},
      y:{type:'linear',position:'right',min:1.31319,max:1.36713,
        afterBuildTicks:s=>{s.ticks=priceTicks.map(v=>({value:v}));},
        afterFit:s=>{s.width=40;},
        ticks:{autoSkip:false,padding:1,color:'#000',font:{family:FONT,size:10},callback:v=>Number(v).toFixed(5)},
        grid:{drawOnChartArea:false,drawTicks:true,tickLength:4,color:'#000'},
        border:{display:true,color:'#000',width:1}}
    }
  },
  plugins:[overlay]
});
</script></body></html>
